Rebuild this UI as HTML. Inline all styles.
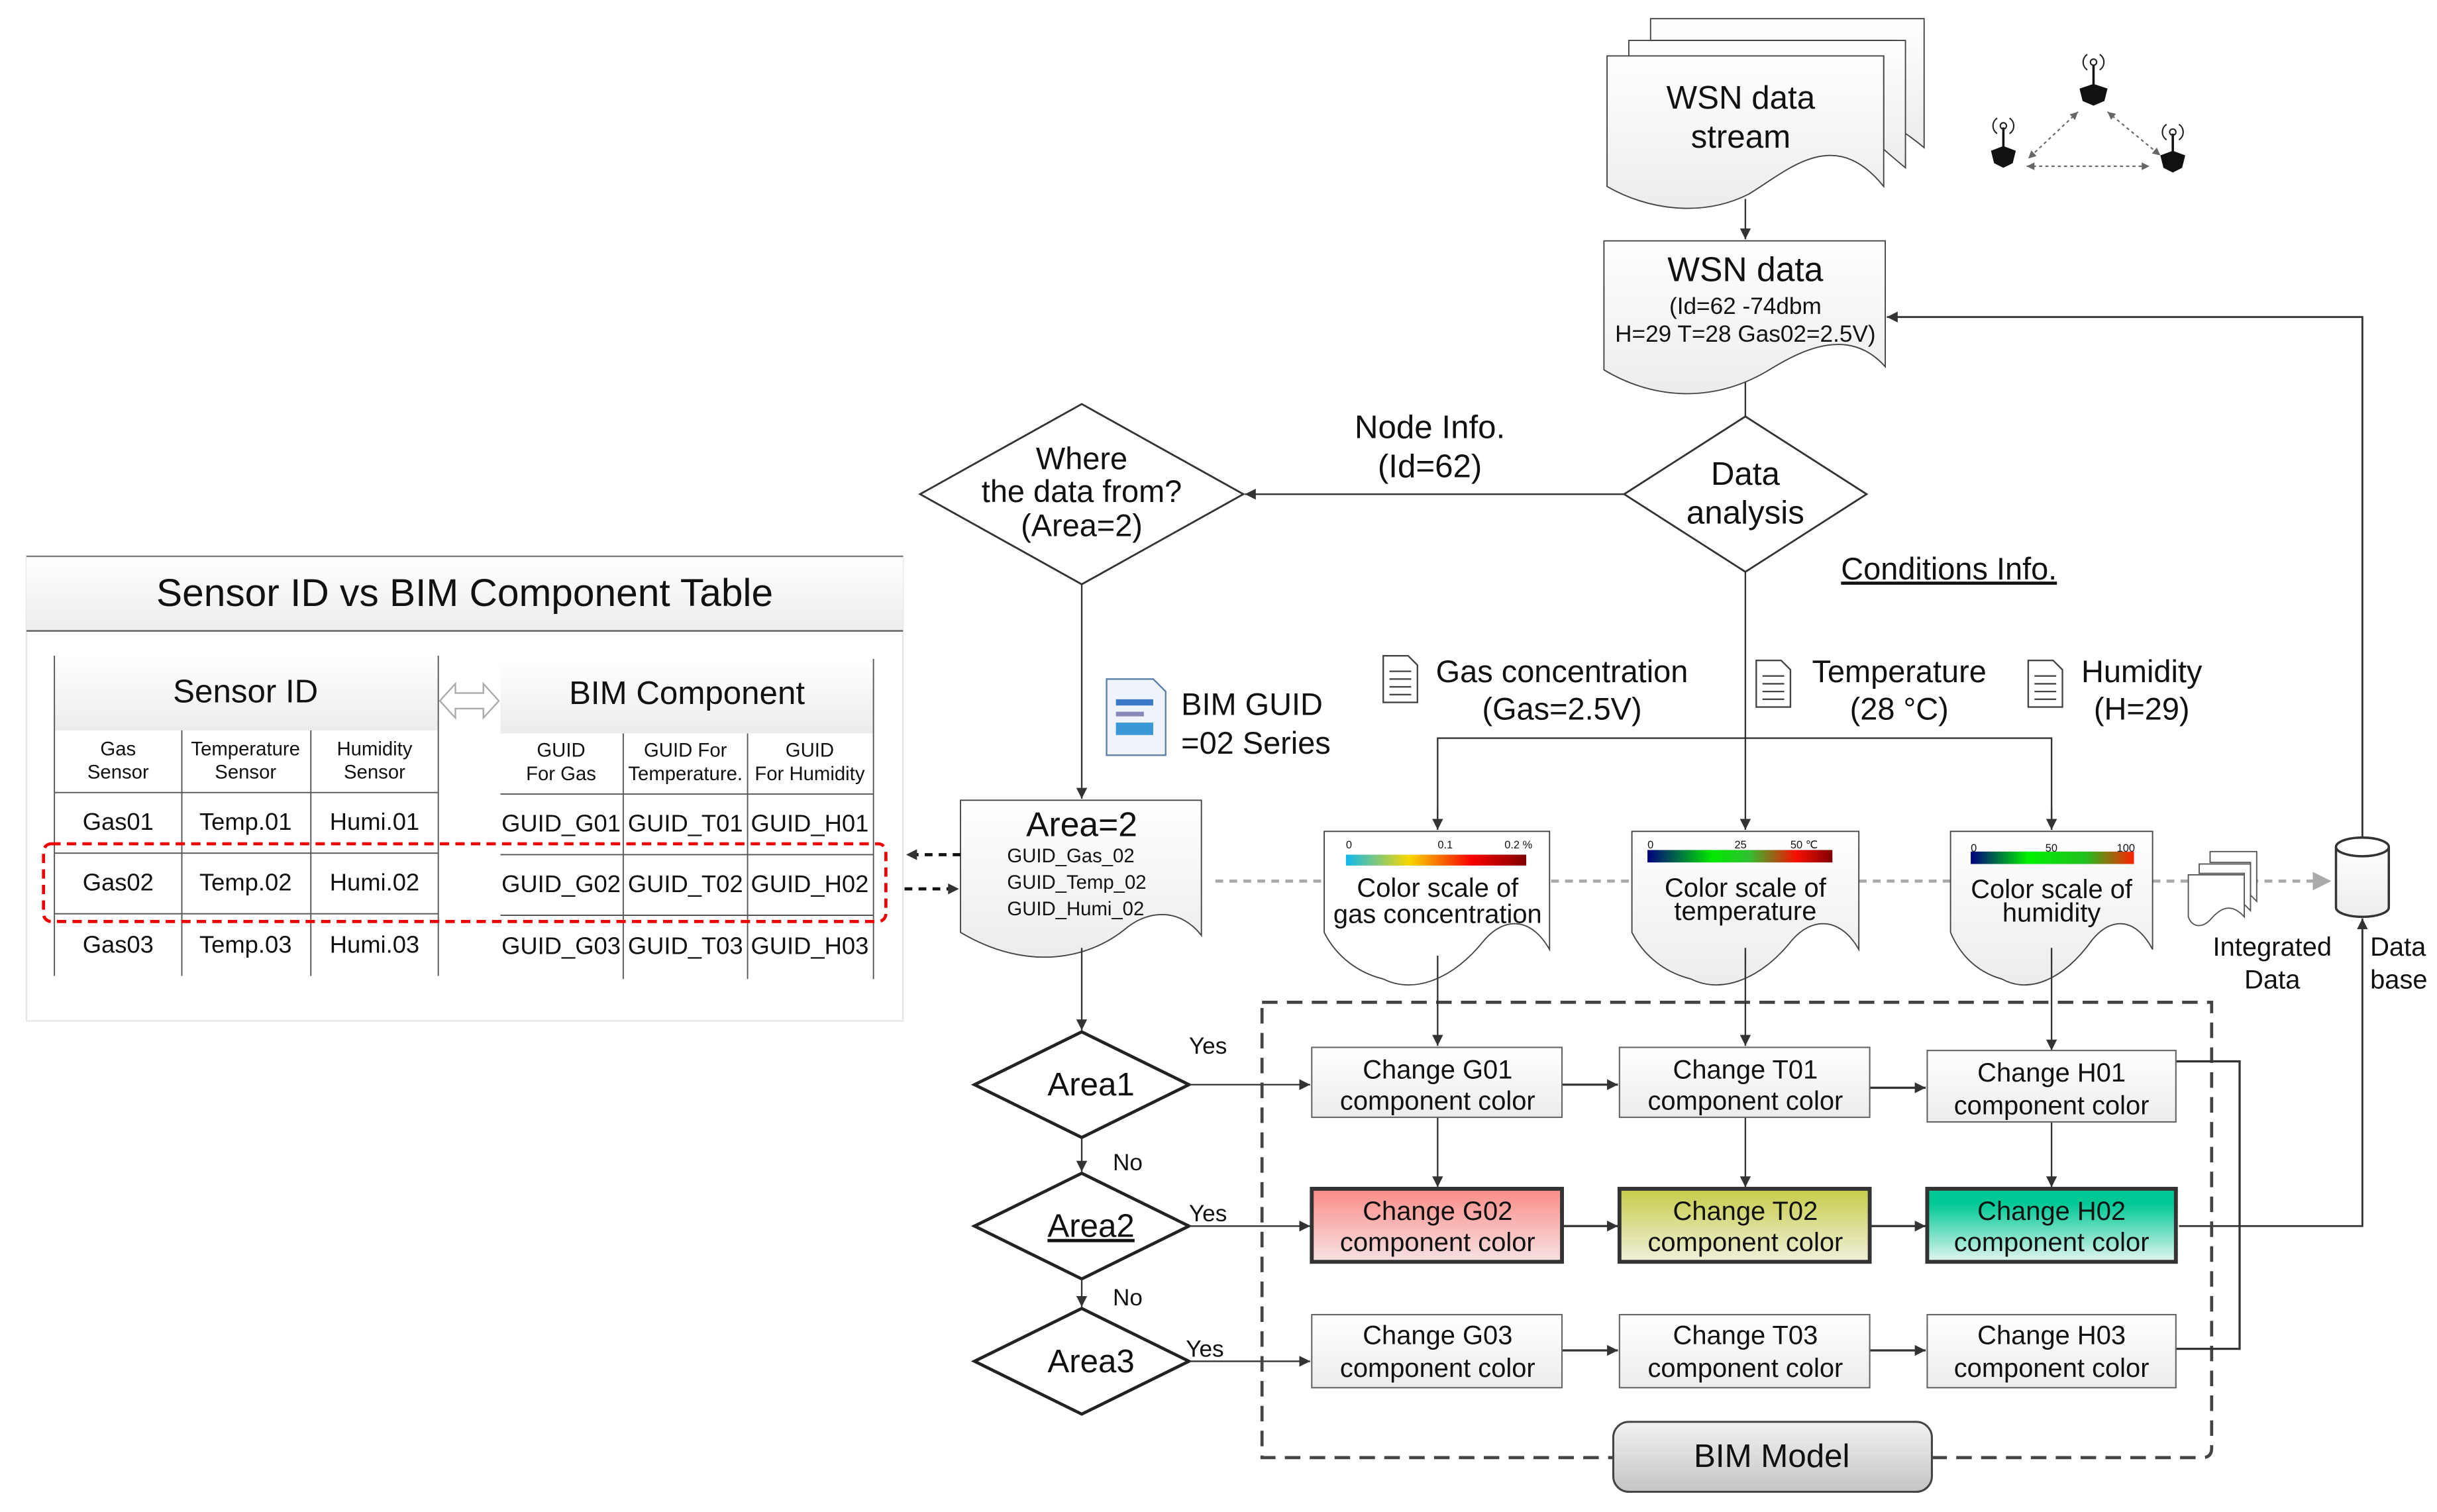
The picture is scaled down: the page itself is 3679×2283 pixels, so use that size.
<!DOCTYPE html>
<html><head><meta charset="utf-8"><style>
html,body{margin:0;padding:0;background:#fff}
svg{display:block}
text{font-family:"Liberation Sans",sans-serif;fill:#111}
</style></head><body>
<svg width="3679" height="2283" viewBox="0 0 1568 973" preserveAspectRatio="none" xmlns="http://www.w3.org/2000/svg">
<defs>
<linearGradient id="g" x1="0" y1="0" x2="0" y2="1"><stop offset="0" stop-color="#ffffff"/><stop offset="1" stop-color="#ececec"/></linearGradient>
<linearGradient id="gb" x1="0" y1="0" x2="0" y2="1"><stop offset="0" stop-color="#f2f2f2"/><stop offset="1" stop-color="#c4c4c4"/></linearGradient>
<linearGradient id="gr" x1="0" y1="0" x2="0" y2="1"><stop offset="0" stop-color="#fb8c88"/><stop offset="1" stop-color="#f6e2e2"/></linearGradient>
<linearGradient id="gy" x1="0" y1="0" x2="0" y2="1"><stop offset="0" stop-color="#c6cc48"/><stop offset="1" stop-color="#f0f0dc"/></linearGradient>
<linearGradient id="gt" x1="0" y1="0" x2="0" y2="1"><stop offset="0.2" stop-color="#00c895"/><stop offset="1" stop-color="#e4f6f0"/></linearGradient>
<linearGradient id="cg" x1="0" y1="0" x2="1" y2="0"><stop offset="0" stop-color="#10b8f0"/><stop offset="0.35" stop-color="#f8d800"/><stop offset="0.7" stop-color="#f80000"/><stop offset="1" stop-color="#800000"/></linearGradient>
<linearGradient id="ct" x1="0" y1="0" x2="1" y2="0"><stop offset="0" stop-color="#000080"/><stop offset="0.35" stop-color="#00e800"/><stop offset="0.55" stop-color="#30c030"/><stop offset="0.8" stop-color="#f81000"/><stop offset="1" stop-color="#800000"/></linearGradient>
<linearGradient id="ch" x1="0" y1="0" x2="1" y2="0"><stop offset="0" stop-color="#000080"/><stop offset="0.35" stop-color="#00f000"/><stop offset="0.7" stop-color="#20c020"/><stop offset="1" stop-color="#ff2000"/></linearGradient>
<marker id="a" viewBox="0 0 10 10" refX="10" refY="5" markerWidth="7" markerHeight="7" orient="auto" markerUnits="userSpaceOnUse"><path d="M0,0 L10,5 L0,10 z" fill="#333"/></marker>
<marker id="ag" viewBox="0 0 10 10" refX="10" refY="5" markerWidth="12" markerHeight="12" orient="auto" markerUnits="userSpaceOnUse"><path d="M0,0 L10,5 L0,10 z" fill="#aaa"/></marker>
<marker id="as" viewBox="0 0 10 10" refX="10" refY="5" markerWidth="5" markerHeight="5" orient="auto-start-reverse" markerUnits="userSpaceOnUse"><path d="M0,0 L10,5 L0,10 z" fill="#666"/></marker>
</defs>

<!-- WSN data stream -->
<g stroke="#444" stroke-width="0.8" fill="url(#g)">
<path d="M1062,12 H1238 V95 C1232,90 1225,85 1220,82 V26 H1062 Z"/>
<path d="M1048,26 H1226 V108 C1220,103 1214,98 1212,96 V36 H1048 Z"/>
<path d="M1034,36 H1212 V120 C1180,80 1150,110 1125,125 C1095,140 1060,135 1034,120 Z"/>
</g>
<text x="1120" y="70" font-size="21" text-anchor="middle">WSN data</text>
<text x="1120" y="95" font-size="21" text-anchor="middle">stream</text>
<line x1="1123" y1="128" x2="1123" y2="154" stroke="#333" marker-end="url(#a)"/>

<!-- sensors -->
<g stroke="#666" stroke-width="0.9" stroke-dasharray="2,2" fill="none">
<line x1="1337" y1="72" x2="1305" y2="102" marker-start="url(#as)" marker-end="url(#as)"/><line x1="1356" y1="72" x2="1390" y2="100" marker-start="url(#as)" marker-end="url(#as)"/><line x1="1304" y1="107" x2="1383" y2="107" marker-start="url(#as)" marker-end="url(#as)"/>
</g>
<g fill="#111">
<path d="M1338,57 l9,-3 l9,3 l-2,8 l-7,3 l-7,-3z"/><line x1="1347" y1="56" x2="1347" y2="42" stroke="#111" stroke-width="1.5"/>
<path d="M1281,97 l8,-3 l8,3 l-2,8 l-6,3 l-6,-3z"/><line x1="1289" y1="96" x2="1289" y2="82" stroke="#111" stroke-width="1.5"/>
<path d="M1390,100 l8,-3 l8,3 l-2,8 l-6,3 l-6,-3z"/><line x1="1398" y1="99" x2="1398" y2="86" stroke="#111" stroke-width="1.5"/>
</g>
<g fill="none" stroke="#222" stroke-width="0.9">
<circle cx="1347" cy="40" r="2"/><path d="M1343,35 a6,6 0 0,0 0,10 M1351,35 a6,6 0 0,1 0,10"/>
<circle cx="1289" cy="81" r="2"/><path d="M1285,76 a6,6 0 0,0 0,10 M1293,76 a6,6 0 0,1 0,10"/>
<circle cx="1398" cy="85" r="2"/><path d="M1394,80 a6,6 0 0,0 0,10 M1402,80 a6,6 0 0,1 0,10"/>
</g>

<!-- WSN data -->
<path d="M1032,155 H1213 V236 C1190,210 1160,225 1140,237 C1100,262 1060,255 1032,238 Z" fill="url(#g)" stroke="#444" stroke-width="0.8"/>
<text x="1123" y="181" font-size="22" text-anchor="middle">WSN data</text>
<text x="1123" y="202" font-size="15" text-anchor="middle">(Id=62  -74dbm</text>
<text x="1123" y="220" font-size="15" text-anchor="middle">H=29 T=28 Gas02=2.5V)</text>
<line x1="1123" y1="246" x2="1123" y2="268" stroke="#333"/>

<!-- Data analysis -->
<path d="M1123,268 L1201,318 L1123,368 L1045,318 Z" fill="#fff" stroke="#333" stroke-width="1.2"/>
<text x="1123" y="312" font-size="21" text-anchor="middle">Data</text>
<text x="1123" y="337" font-size="21" text-anchor="middle">analysis</text>
<line x1="1045" y1="318" x2="801" y2="318" stroke="#333" marker-end="url(#a)"/>
<text x="920" y="282" font-size="21" text-anchor="middle">Node Info.</text>
<text x="920" y="307" font-size="21" text-anchor="middle">(Id=62)</text>

<!-- Where -->
<path d="M696,260 L800,318 L696,376 L592,318 Z" fill="#fff" stroke="#333" stroke-width="1.2"/>
<text x="696" y="302" font-size="20" text-anchor="middle">Where</text>
<text x="696" y="323" font-size="20" text-anchor="middle">the data from?</text>
<text x="696" y="345" font-size="20" text-anchor="middle">(Area=2)</text>
<line x1="696" y1="376" x2="696" y2="514" stroke="#333" marker-end="url(#a)"/>

<!-- BIM GUID -->
<path d="M712,437 H742 L750,445 V486 H712 Z" fill="#eef4fa" stroke="#5a7fa8"/>
<rect x="718" y="450" width="24" height="4" fill="#3a78c8"/><rect x="718" y="458" width="18" height="3" fill="#88b"/><rect x="718" y="465" width="24" height="8" fill="#3a98d8"/>
<text x="760" y="460" font-size="20">BIM GUID</text>
<text x="760" y="485" font-size="20">=02 Series</text>

<text x="1254" y="373" font-size="20" text-anchor="middle" text-decoration="underline">Conditions Info.</text>

<!-- condition lines -->
<line x1="1123" y1="368" x2="1123" y2="534" stroke="#333" marker-end="url(#a)"/>
<path d="M925,534 V475 H1320 V534" fill="none" stroke="#333"/>
<line x1="925" y1="520" x2="925" y2="534" stroke="#333" marker-end="url(#a)"/>
<line x1="1320" y1="520" x2="1320" y2="534" stroke="#333" marker-end="url(#a)"/>

<g fill="#fff" stroke="#444" stroke-width="1">
<path d="M890,422 H906 L912,428 V452 H890 Z"/><path d="M1130,425 H1146 L1152,431 V455 H1130 Z"/><path d="M1305,425 H1321 L1327,431 V455 H1305 Z"/>
</g>
<g stroke="#444" stroke-width="1"><path d="M894,432 h14 M894,437 h14 M894,442 h14 M894,447 h14 M1134,435 h14 M1134,440 h14 M1134,445 h14 M1134,450 h14 M1309,435 h14 M1309,440 h14 M1309,445 h14 M1309,450 h14"/></g>
<text x="1005" y="439" font-size="20" text-anchor="middle">Gas concentration</text>
<text x="1005" y="463" font-size="20" text-anchor="middle">(Gas=2.5V)</text>
<text x="1222" y="439" font-size="20" text-anchor="middle">Temperature</text>
<text x="1222" y="463" font-size="20" text-anchor="middle">(28 °C)</text>
<text x="1378" y="439" font-size="20" text-anchor="middle">Humidity</text>
<text x="1378" y="463" font-size="20" text-anchor="middle">(H=29)</text>

<!-- gray dashed flow -->
<line x1="782" y1="567" x2="1500" y2="567" stroke="#aaa" stroke-width="2" stroke-dasharray="5,4" marker-end="url(#ag)"/>

<!-- color scale docs -->
<g stroke="#444" stroke-width="0.8">
<path d="M852,535 H997 V611 C985,590 968,590 955,605 C935,630 910,640 890,630 C870,625 858,612 852,600 Z" fill="#fff"/>
<path d="M1050,535 H1196 V611 C1184,590 1166,590 1153,605 C1133,630 1108,640 1088,630 C1068,625 1056,612 1050,600 Z" fill="url(#g)"/>
<path d="M1255,535 H1385 V611 C1374,590 1358,590 1346,605 C1328,630 1306,640 1288,630 C1270,625 1260,612 1255,600 Z" fill="url(#g)"/>
</g>
<rect x="866" y="550" width="116" height="7" fill="url(#cg)"/>
<rect x="1060" y="547" width="119" height="8" fill="url(#ct)"/>
<rect x="1268" y="548" width="105" height="8" fill="url(#ch)"/>
<g font-size="7"><text x="866" y="546">0</text><text x="925" y="546">0.1</text><text x="968" y="546">0.2 %</text>
<text x="1060" y="546">0</text><text x="1116" y="546">25</text><text x="1152" y="546">50 ℃</text>
<text x="1268" y="548">0</text><text x="1316" y="548">50</text><text x="1362" y="548">100</text></g>
<g font-size="17" text-anchor="middle">
<text x="925" y="577">Color scale of</text><text x="925" y="594">gas concentration</text>
<text x="1123" y="577">Color scale of</text><text x="1123" y="592">temperature</text>
<text x="1320" y="578">Color scale of</text><text x="1320" y="593">humidity</text></g>

<!-- integrated data -->
<g stroke="#555" stroke-width="0.8" fill="#fff">
<path d="M1422,548 H1452 V580 L1448,576 V555 H1422 Z"/>
<path d="M1415,556 H1448 V586 L1444,582 V562 H1415 Z"/>
<path d="M1408,563 H1444 V590 C1435,580 1428,585 1422,592 C1416,598 1410,596 1408,590 Z"/>
</g>
<text x="1462" y="615" font-size="17" text-anchor="middle">Integrated</text>
<text x="1462" y="636" font-size="17" text-anchor="middle">Data</text>

<!-- database -->
<path d="M1503,545 V584 A17,6 0 0,0 1537,584 V545" fill="url(#g)" stroke="#333" stroke-width="1.5"/>
<ellipse cx="1520" cy="545" rx="17" ry="6" fill="#fff" stroke="#333" stroke-width="1.5"/>
<text x="1525" y="615" font-size="17">Data</text>
<text x="1525" y="636" font-size="17">base</text>
<path d="M1520,539 V204 H1214" fill="none" stroke="#333" stroke-width="1.2" marker-end="url(#a)"/>
<path d="M1402,789 H1520 V591" fill="none" stroke="#333" stroke-width="1.2" marker-end="url(#a)"/>

<!-- Area=2 doc -->
<path d="M618,515 H773 V602 C760,585 740,585 725,597 C700,618 660,625 618,600 Z" fill="url(#g)" stroke="#444" stroke-width="0.8"/>
<text x="696" y="538" font-size="22" text-anchor="middle">Area=2</text>
<g font-size="12.5"><text x="648" y="555">GUID_Gas_02</text><text x="648" y="572">GUID_Temp_02</text><text x="648" y="589">GUID_Humi_02</text></g>
<line x1="696" y1="610" x2="696" y2="663" stroke="#333" marker-end="url(#a)"/>

<!-- area diamonds -->
<g fill="#fff" stroke="#222" stroke-width="2">
<path d="M696,664 L765,698 L696,732 L627,698 Z"/>
<path d="M696,755 L765,789 L696,823 L627,789 Z"/>
<path d="M696,842 L765,876 L696,910 L627,876 Z"/>
</g>
<g font-size="21" text-anchor="middle"><text x="702" y="705">Area1</text><text x="702" y="796" text-decoration="underline">Area2</text><text x="702" y="883">Area3</text></g>
<line x1="696" y1="732" x2="696" y2="754" stroke="#333" marker-end="url(#a)"/>
<line x1="696" y1="823" x2="696" y2="841" stroke="#333" marker-end="url(#a)"/>
<g font-size="15"><text x="716" y="753">No</text><text x="716" y="840">No</text><text x="765" y="678">Yes</text><text x="765" y="786">Yes</text><text x="763" y="873">Yes</text></g>
<line x1="765" y1="698" x2="843" y2="698" stroke="#333" marker-end="url(#a)"/>
<line x1="765" y1="789" x2="843" y2="789" stroke="#333" marker-end="url(#a)"/>
<line x1="765" y1="876" x2="843" y2="876" stroke="#333" marker-end="url(#a)"/>

<!-- BIM model dashed -->
<path d="M812,645 H1423 V932 Q1423,938 1417,938 H812 Z" fill="none" stroke="#444" stroke-width="2" stroke-dasharray="10,6"/>
<rect x="1038" y="915" width="205" height="45" rx="10" fill="url(#gb)" stroke="#444" stroke-width="1.3"/>
<text x="1140" y="944" font-size="21" text-anchor="middle">BIM Model</text>

<!-- vertical from scales -->
<g stroke="#333" fill="none">
<line x1="925" y1="615" x2="925" y2="673" marker-end="url(#a)"/>
<line x1="1123" y1="610" x2="1123" y2="673" marker-end="url(#a)"/>
<line x1="1320" y1="610" x2="1320" y2="676" marker-end="url(#a)"/>
<line x1="925" y1="719" x2="925" y2="764" marker-end="url(#a)"/>
<line x1="1123" y1="719" x2="1123" y2="764" marker-end="url(#a)"/>
<line x1="1320" y1="721" x2="1320" y2="764" marker-end="url(#a)"/>
<g stroke-width="1.4">
<line x1="1005" y1="698" x2="1041" y2="698" marker-end="url(#a)"/>
<line x1="1203" y1="700" x2="1239" y2="700" marker-end="url(#a)"/>
<line x1="1005" y1="789" x2="1041" y2="789" marker-end="url(#a)"/>
<line x1="1203" y1="789" x2="1239" y2="789" marker-end="url(#a)"/>
<line x1="1005" y1="869" x2="1041" y2="869" marker-end="url(#a)"/>
<line x1="1203" y1="869" x2="1239" y2="869" marker-end="url(#a)"/>
<path d="M1400,683 H1441 V868 H1400"/>
</g>
</g>

<!-- boxes -->
<g stroke="#666" stroke-width="0.9" fill="url(#g)">
<rect x="844" y="674" width="161" height="45"/><rect x="1042" y="674" width="161" height="45"/><rect x="1240" y="676" width="160" height="46"/>
<rect x="844" y="846" width="161" height="47"/><rect x="1042" y="846" width="161" height="47"/><rect x="1240" y="846" width="160" height="47"/>
</g>
<g stroke="#333" stroke-width="2.5">
<rect x="844" y="765" width="161" height="47" fill="url(#gr)"/><rect x="1042" y="765" width="161" height="47" fill="url(#gy)"/><rect x="1240" y="765" width="160" height="47" fill="url(#gt)"/>
</g>
<g font-size="17" text-anchor="middle">
<text x="925" y="694">Change G01</text><text x="925" y="714">component color</text>
<text x="1123" y="694">Change T01</text><text x="1123" y="714">component color</text>
<text x="1320" y="696">Change H01</text><text x="1320" y="717">component color</text>
<text x="925" y="785">Change G02</text><text x="925" y="805">component color</text>
<text x="1123" y="785">Change T02</text><text x="1123" y="805">component color</text>
<text x="1320" y="785">Change H02</text><text x="1320" y="805">component color</text>
<text x="925" y="865">Change G03</text><text x="925" y="886">component color</text>
<text x="1123" y="865">Change T03</text><text x="1123" y="886">component color</text>
<text x="1320" y="865">Change H03</text><text x="1320" y="886">component color</text>
</g>

<!-- table -->
<rect x="17" y="358" width="564" height="299" fill="#fff" stroke="#e6e6e6"/>
<rect x="17" y="358" width="564" height="48" fill="url(#g)"/>
<line x1="17" y1="358" x2="581" y2="358" stroke="#777"/>
<line x1="17" y1="406" x2="581" y2="406" stroke="#555"/>
<text x="299" y="390" font-size="25" text-anchor="middle">Sensor ID vs BIM Component Table</text>
<rect x="35" y="422" width="247" height="48" fill="url(#g)"/>
<rect x="322" y="424" width="240" height="48" fill="url(#g)"/>
<g stroke="#555" stroke-width="0.8">
<line x1="35" y1="422" x2="35" y2="628"/><line x1="282" y1="422" x2="282" y2="628"/>
<line x1="117" y1="470" x2="117" y2="628"/><line x1="200" y1="470" x2="200" y2="628"/>
<line x1="35" y1="510" x2="282" y2="510"/><line x1="35" y1="549" x2="282" y2="549"/><line x1="35" y1="588" x2="282" y2="588"/>
<line x1="562" y1="424" x2="562" y2="630"/>
<line x1="401" y1="472" x2="401" y2="630"/><line x1="481" y1="472" x2="481" y2="630"/>
<line x1="322" y1="511" x2="562" y2="511"/><line x1="322" y1="550" x2="562" y2="550"/><line x1="322" y1="589" x2="562" y2="589"/>
</g>
<path d="M283,451 L293,440 V446 H311 V440 L321,451 L311,462 V456 H293 V462 Z" fill="#fff" stroke="#aaa"/>
<text x="158" y="452" font-size="21" text-anchor="middle">Sensor ID</text>
<text x="442" y="453" font-size="21" text-anchor="middle">BIM Component</text>
<g font-size="12.5" text-anchor="middle">
<text x="76" y="486">Gas</text><text x="76" y="501">Sensor</text>
<text x="158" y="486">Temperature</text><text x="158" y="501">Sensor</text>
<text x="241" y="486">Humidity</text><text x="241" y="501">Sensor</text>
<text x="361" y="487">GUID</text><text x="361" y="502">For Gas</text>
<text x="441" y="487">GUID For</text><text x="441" y="502">Temperature.</text>
<text x="521" y="487">GUID</text><text x="521" y="502">For Humidity</text>
</g>
<g font-size="15.5" text-anchor="middle">
<text x="76" y="534">Gas01</text><text x="158" y="534">Temp.01</text><text x="241" y="534">Humi.01</text>
<text x="76" y="573">Gas02</text><text x="158" y="573">Temp.02</text><text x="241" y="573">Humi.02</text>
<text x="76" y="613">Gas03</text><text x="158" y="613">Temp.03</text><text x="241" y="613">Humi.03</text>
<text x="361" y="535">GUID_G01</text><text x="441" y="535">GUID_T01</text><text x="521" y="535">GUID_H01</text>
<text x="361" y="574">GUID_G02</text><text x="441" y="574">GUID_T02</text><text x="521" y="574">GUID_H02</text>
<text x="361" y="614">GUID_G03</text><text x="441" y="614">GUID_T03</text><text x="521" y="614">GUID_H03</text>
</g>
<rect x="28" y="543" width="542" height="50" rx="5" fill="none" stroke="#e00" stroke-width="2" stroke-dasharray="6,4"/>
<line x1="618" y1="550" x2="583" y2="550" stroke="#111" stroke-width="2" stroke-dasharray="5,4" marker-end="url(#a)"/>
<line x1="582" y1="572" x2="617" y2="572" stroke="#111" stroke-width="2" stroke-dasharray="5,4" marker-end="url(#a)"/>
</svg>
</body></html>
